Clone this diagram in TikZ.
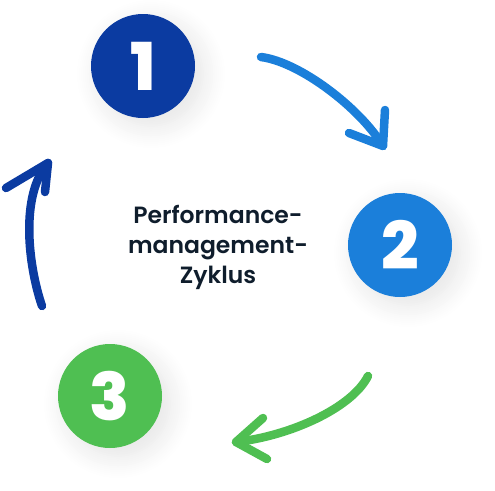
\documentclass[tikz,border=0pt]{standalone}
\usepackage{fontspec}
\setmainfont{Poppins}
\newfontfamily\titlefont{Poppins SemiBold}
\newfontfamily\numfont{Poppins ExtraBold}
\usetikzlibrary{positioning,shadows.blur}

\definecolor{stepone}{HTML}{0B3BA1}
\definecolor{steptwo}{HTML}{1B7FDA}
\definecolor{stepthree}{HTML}{4FBF52}
\definecolor{titleink}{HTML}{0F1D2C}

\tikzset{
  stepcirc/.style={circle, minimum size=104pt, inner sep=0pt, text=white,
    font=\numfont\fontsize{66}{66}\selectfont,
    blur shadow={shadow xshift=8pt, shadow yshift=-8pt, shadow blur radius=22pt,
      shadow opacity=11, shadow blur steps=12}},
  cyclearr/.style={line width=8.5pt, line cap=round, line join=round}
}

\begin{document}
\begin{tikzpicture}[x=1pt,y=-1pt]
    \useasboundingbox (0,0) rectangle (495,490);

    % Steps of the cycle
    \node[stepcirc,fill=stepone] (one) at (143,66) {1};
    \node[stepcirc,fill=steptwo] (two) at (400,245) {2};
    \node[stepcirc,fill=stepthree] (three) at (110,396) {3};

    \node[text=titleink,align=center,font=\titlefont\fontsize{23.5}{30}\selectfont]
        (title) at (218,247) {Performance-\\management-\\Zyklus};

    % Arrow ends
    \coordinate (ab) at (261,57);
    \coordinate (ae) at (383,146);
    \coordinate (bb) at (368,376);
    \coordinate (be) at (236,442);
    \coordinate (cb) at (42,306);
    \coordinate (ce) at (48,163);

    \draw[cyclearr,steptwo] (ab) .. controls (300,62) and (360,108) .. (ae);
    \draw[cyclearr,steptwo] (385,110) -- (ae) -- (349,133);

    \draw[cyclearr,stepthree] (bb) .. controls (352,408) and (290,436) .. (be);
    \draw[cyclearr,stepthree] (263,418) -- (be) -- (267,459);

    \draw[cyclearr,stepone] (cb) .. controls (28,265) and (20,195) .. (ce);
    \draw[cyclearr,stepone] (6,188) -- (ce) -- (45,192);
\end{tikzpicture}
\end{document}
